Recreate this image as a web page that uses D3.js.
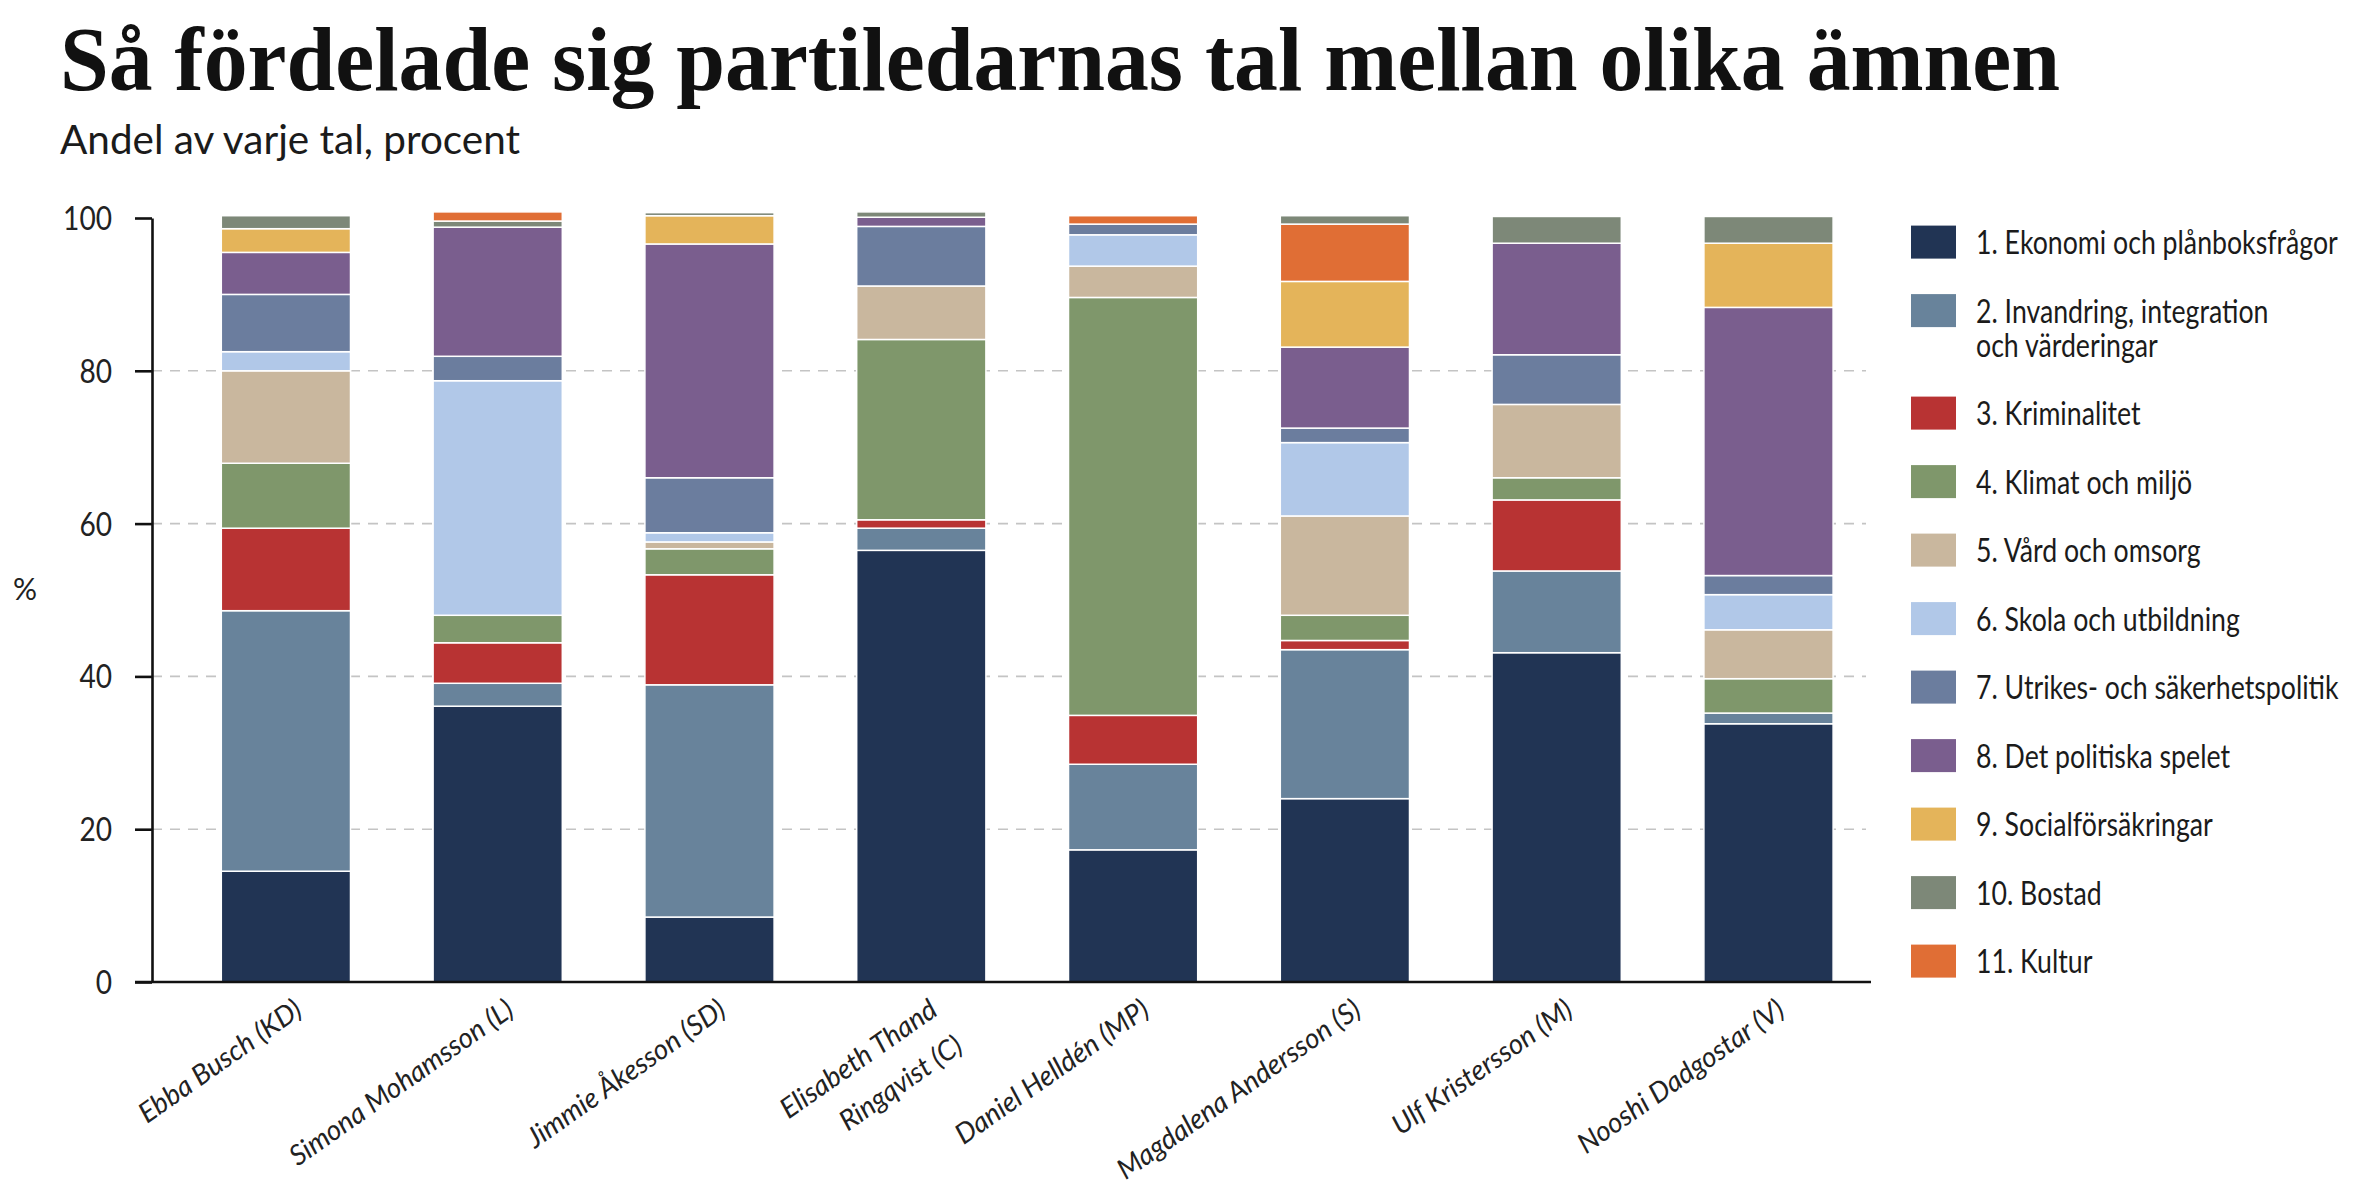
<!DOCTYPE html>
<html><head><meta charset="utf-8">
<script src="https://cdn.jsdelivr.net/npm/d3@7"></script>
<style>body{margin:0;background:#fff} svg{display:block}</style>
</head><body>
<svg id="chart" width="2362" height="1200"></svg>
<script>
const title = "Så fördelade sig partiledarnas tal mellan olika ämnen";
const subtitle = "Andel av varje tal, procent";
const yAxisLabel = "%";
const candidates = ["Ebba Busch (KD)", "Simona Mohamsson (L)", "Jimmie Åkesson (SD)", "Elisabeth Thand\nRingqvist (C)", "Daniel Helldén (MP)", "Magdalena Andersson (S)", "Ulf Kristersson (M)", "Nooshi Dadgostar (V)"];
const topics = ["1. Ekonomi och plånboksfrågor", "2. Invandring, integration\noch värderingar", "3. Kriminalitet", "4. Klimat och miljö", "5. Vård och omsorg", "6. Skola och utbildning", "7. Utrikes- och säkerhetspolitik", "8. Det politiska spelet", "9. Socialförsäkringar", "10. Bostad", "11. Kultur"];
const topicColors = ["#213454", "#68839b", "#b83333", "#7f976b", "#c9b79e", "#b1c8e8", "#6b7d9e", "#7a5e8e", "#e4b45a", "#7d8878", "#e06e35"];
const yTicks = [0, 20, 40, 60, 80, 100];

// share of each speech (percent), one array per topic, in candidate order
const ekonomi      = [14.5, 36.1,  8.5, 56.5, 17.3, 24.0, 43.1, 33.8];
const invandring   = [34.1,  3.0, 30.4,  2.9, 11.2, 19.5, 10.7,  1.4];
const kriminalitet = [10.8,  5.3, 14.4,  1.1,  6.4,  1.2,  9.3,  0.0];
const klimat       = [ 8.5,  3.6,  3.4, 23.6, 54.7,  3.3,  2.9,  4.5];
const vard         = [12.1,  0.0,  0.9,  7.0,  4.1, 13.0,  9.6,  6.4];
const skola        = [ 2.5, 30.7,  1.2,  0.0,  4.1,  9.6,  0.0,  4.6];
const utrikes      = [ 7.5,  3.2,  7.2,  7.8,  1.4,  1.9,  6.5,  2.5];
const spelet       = [ 5.5, 16.9, 30.6,  1.2,  0.0, 10.6, 14.6, 35.1];
const social       = [ 3.1,  0.0,  3.7,  0.0,  0.0,  8.6,  0.0,  8.4];
const bostad       = [ 1.7,  0.8,  0.4,  0.7,  0.0,  1.1,  3.5,  3.5];
const kultur       = [ 0.0,  1.2,  0.0,  0.0,  1.1,  7.5,  0.0,  0.0];
// in this bar the "Bostad" band is drawn above "Kultur"
const bostadOnTop  = [false, false, false, false, false, true, false, false];

const series = [ekonomi, invandring, kriminalitet, klimat, vard, skola, utrikes, spelet, social, bostad, kultur];

const svg = d3.select("#chart");
svg.append("rect").attr("width", 2362).attr("height", 1200).attr("fill", "#ffffff");

const sansFont = "Lato, 'Open Sans', sans-serif";
const textColor = "#1b1b1b";

// Title & subtitle
svg.append("text").attr("x", 60).attr("y", 90)
  .attr("font-family", "'Liberation Serif', 'DejaVu Serif', serif")
  .attr("font-weight", 700).attr("font-size", 92).attr("fill", "#111")
  .attr("textLength", 2000).attr("lengthAdjust", "spacingAndGlyphs")
  .text(title);
svg.append("text").attr("x", 60).attr("y", 154)
  .attr("font-family", sansFont).attr("font-size", 40).attr("fill", textColor)
  .attr("textLength", 460).attr("lengthAdjust", "spacingAndGlyphs")
  .text(subtitle);

// Scales
const x = d3.scaleBand().domain(candidates).range([180, 1874.4]).paddingInner(0.39).paddingOuter(0.195);
const y = d3.scaleLinear().domain([0, 100]).range([982, 218]);
const axisX = 152, axisRight = 1871;

// Gridlines
svg.append("g").selectAll("line").data(yTicks.filter(t => t > 0 && t < 100)).join("line")
  .attr("x1", axisX).attr("x2", 1866)
  .attr("y1", d => y(d)).attr("y2", d => y(d))
  .attr("stroke", "#c4c4c4").attr("stroke-width", 1.6).attr("stroke-dasharray", "10,8");

// Stacked bars
const segs = [];
candidates.forEach((c, j) => {
  let order = series.map((s, i) => i);
  if (bostadOnTop[j]) { order = order.slice(0, 9).concat([10, 9]); }
  let acc = 0;
  order.forEach(i => {
    const v = series[i][j];
    if (v > 0) segs.push({cand: c, topic: i, y0: acc, y1: acc + v});
    acc += v;
  });
});
svg.append("g").selectAll("rect").data(segs).join("rect")
  .attr("x", d => x(d.cand)).attr("width", x.bandwidth())
  .attr("y", d => y(d.y1)).attr("height", d => y(d.y0) - y(d.y1))
  .attr("fill", d => topicColors[d.topic])
  .attr("stroke", "#ffffff").attr("stroke-width", 1.5);

// Y axis
const yAxis = svg.append("g").attr("transform", `translate(${axisX},0)`)
  .call(d3.axisLeft(y).tickValues(yTicks).tickSize(17).tickPadding(23).tickSizeOuter(0));
yAxis.select(".domain").attr("stroke", "#111").attr("stroke-width", 2.6);
yAxis.selectAll(".tick line").attr("stroke", "#111").attr("stroke-width", 2.6);
yAxis.selectAll(".tick text")
  .attr("font-family", sansFont).attr("font-size", 33).attr("fill", "#222")
  .attr("dy", "0.35em")
  .each(function(d) { const n = String(d).length; d3.select(this).attr("textLength", 16.3 * n).attr("lengthAdjust", "spacingAndGlyphs"); });

// X axis line
svg.append("line").attr("x1", 135).attr("x2", axisRight).attr("y1", y(0)).attr("y2", y(0))
  .attr("stroke", "#111").attr("stroke-width", 2.6);

// % label
svg.append("text").attr("x", 25).attr("y", 600).attr("text-anchor", "middle")
  .attr("font-family", sansFont).attr("font-size", 30).attr("fill", "#222").text(yAxisLabel);

// X labels (rotated, condensed italic)
const xl = svg.append("g");
const labelSize = 28;
const probe = svg.append("text").attr("font-family", sansFont).attr("font-style", "italic").attr("font-size", labelSize).text("Magdalena Andersson (S)");
const xScaleF = 290 / probe.node().getComputedTextLength();
probe.remove();
candidates.forEach(c => {
  const g = xl.append("g").attr("transform", `translate(${x(c) + x.bandwidth() / 2 + 18},1014) rotate(-35)`);
  const t = g.append("text").attr("transform", `scale(${xScaleF},1)`).attr("text-anchor", "end")
    .attr("font-family", sansFont).attr("font-style", "italic").attr("font-size", labelSize).attr("fill", "#222");
  c.split("\n").forEach((line, k) => {
    t.append("tspan").attr("x", 0).attr("dy", k === 0 ? 0 : 44 / 1).text(line);
  });
});

// Legend
const leg = svg.append("g");
const probe2 = svg.append("text").attr("font-family", sansFont).attr("font-size", 33).text("1. Ekonomi och plånboksfrågor");
const legF = 362 / probe2.node().getComputedTextLength();
probe2.remove();
let ly = 225.6;
topics.forEach((tp, i) => {
  const lines = tp.split("\n");
  leg.append("rect").attr("x", 1911).attr("y", ly).attr("width", 45).attr("height", 33).attr("fill", topicColors[i]);
  const t = leg.append("text").attr("transform", `translate(1976,${ly + 16.5 + 12}) scale(${legF},1)`)
    .attr("font-family", sansFont).attr("font-size", 33).attr("fill", textColor);
  lines.forEach((line, k) => t.append("tspan").attr("x", 0).attr("dy", k === 0 ? 0 : 34).text(line));
  ly += 68.5 + (lines.length - 1) * 34;
});
</script>
</body></html>
